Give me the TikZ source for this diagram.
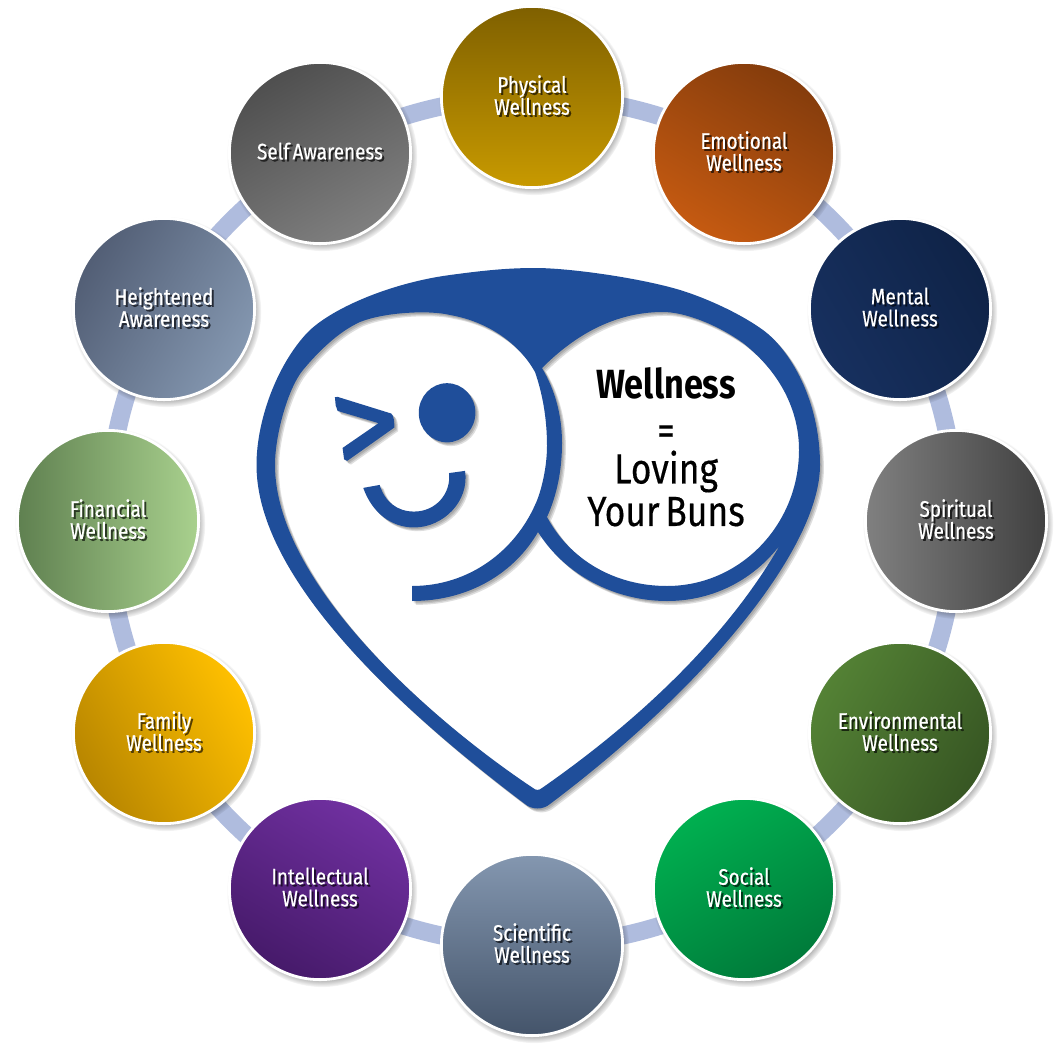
\documentclass[tikz,border=0pt]{standalone}
\usepackage{fontspec}
\setmainfont[FakeStretch=0.84,WordSpace=0.6]{Fira Sans}
\newfontfamily\lblfont[FakeStretch=0.84,WordSpace=0.6,FakeBold=0.35]{Fira Sans}
\usetikzlibrary{shadows,backgrounds,fadings}
\definecolor{linkblue}{HTML}{AFBCDE}
\definecolor{heartblue}{HTML}{1F4E9A}
\definecolor{phyD}{HTML}{7F6000}\definecolor{phyL}{HTML}{C89A00}
\definecolor{emoD}{HTML}{843C0C}\definecolor{emoL}{HTML}{C55A11}
\definecolor{menD}{HTML}{0F2347}\definecolor{menL}{HTML}{17305F}
\definecolor{spiD}{HTML}{404040}\definecolor{spiL}{HTML}{808080}
\definecolor{envD}{HTML}{375623}\definecolor{envL}{HTML}{548235}
\definecolor{socD}{HTML}{007A3A}\definecolor{socL}{HTML}{00B050}
\definecolor{sciD}{HTML}{44546A}\definecolor{sciL}{HTML}{8497B0}
\definecolor{intD}{HTML}{461A6A}\definecolor{intL}{HTML}{7030A0}
\definecolor{famD}{HTML}{B88600}\definecolor{famL}{HTML}{FFC000}
\definecolor{finD}{HTML}{5F8050}\definecolor{finL}{HTML}{A9D18E}
\definecolor{heiD}{HTML}{525E75}\definecolor{heiL}{HTML}{8497B0}
\definecolor{selD}{HTML}{4F4F4F}\definecolor{selL}{HTML}{7F7F7F}
\newcommand{\shtxt}[2]{\leavevmode\rlap{\kern0.05cm\raisebox{-0.05cm}{\color{#1!45!black}#2}}#2}
\newcommand{\heartpath}{
  (525,804) .. controls (374,690) and (256.5,568) .. (256.5,465)
  .. controls (256.5,420) and (277,365) .. (307,333)
  .. controls (330,309) and (390,283) .. (450,275)
  .. controls (480,271) and (505,268) .. (535,268)
  .. controls (570,268) and (640,278) .. (680,290)
  .. controls (703,297) and (738,312) .. (763,330)
  .. controls (790,350) and (820,400) .. (820,465)
  .. controls (820,546) and (710.7,683) .. (550,804)
  .. controls (543,810) and (532,810) .. (525,804) -- cycle
  (275,465) .. controls (275,435) and (288,388) .. (303,370)
  .. controls (318,352) and (338,332) .. (360,322)
  .. controls (385,312) and (430,310) .. (450,315)
  .. controls (490,322) and (520,345) .. (535,372)
  .. controls (543,395) and (547,420) .. (547,446)
  .. controls (547,470) and (540,495) .. (535,505)
  .. controls (515,550) and (470,586) .. (412,586)
  -- (412,601)
  .. controls (470,601) and (515,572) .. (538,532)
  .. controls (565,575) and (615,601) .. (667,601)
  .. controls (715,601) and (755,578) .. (780,545)
  .. controls (737,620) and (661,705) .. (542,788)
  .. controls (539,790.5) and (536,790.5) .. (533,788)
  .. controls (431,720) and (275,583) .. (275,465) -- cycle
  (542,368) .. controls (570,340) and (610,312) .. (663,312)
  .. controls (685,312) and (718,325) .. (743,343)
  .. controls (775,368) and (799,405) .. (799,450)
  .. controls (799,525) and (740,586) .. (667,586)
  .. controls (615,586) and (570,560) .. (547,517)
  .. controls (557,495) and (562,470) .. (562,443)
  .. controls (562,415) and (555,390) .. (542,368) -- cycle
}
\newcommand{\facepath}{
  (541,360) .. controls (582,360) and (615,396) .. (615,440)
  .. controls (615,484) and (582,520) .. (541,520)
  .. controls (500,520) and (467,484) .. (467,440)
  .. controls (467,396) and (500,360) .. (541,360) -- cycle
  (255,397) -- (395,442) .. controls (402,446) and (404,470) .. (403,480)
  -- (280,570) -- (272,566) -- (268,535) -- (362,468) -- (255,435)
  -- (250,420) -- (248,398) -- cycle
  (322,643) .. controls (345,710) and (395,750) .. (455,750)
  .. controls (530,750) and (600,680) .. (588,597)
  -- (546,603) .. controls (552,660) and (510,707) .. (455,707)
  .. controls (410,707) and (378,680) .. (365,635) -- cycle
}
\lineskiplimit=-20pt
\normallineskiplimit=-20pt
\tikzset{
  wheel/.style={circle,draw=white,line width=0.07cm,minimum size=4.53cm,inner sep=0pt,
    align=center,text=white,font=\lblfont\fontsize{16}{15.65}\selectfont,
    circular drop shadow={shadow xshift=0.05cm,shadow yshift=-0.07cm,shadow scale=1.05,opacity=.55,fill=black}},
  link/.style={linkblue,line width=0.45cm,bend left=15,looseness=0.87},
  centertext/.style={align=center,text=black,inner sep=0pt,
    font=\lblfont\fontsize{30}{30.2}\selectfont}
}
% name, position, prefix of the colours, shading angle, text
\newcommand{\wnode}[5]{%
  \node[wheel,top color=#3D,bottom color=#3L,shading angle=#4] (#1) at #2 {#5\rule[-0.1cm]{0pt}{0pt}};
}
\begin{document}
\begin{tikzpicture}[x=0.025cm,y=-0.025cm]
\useasboundingbox (0,0) rectangle (1064,1051);
\wnode{physical}{(532,97)}{phy}{0}{\shtxt{phyD}{Physical}\\\shtxt{phyD}{Wellness}}
\wnode{emotional}{(744,153)}{emo}{-30}{\shtxt{emoD}{Emotional}\\\shtxt{emoD}{Wellness}}
\wnode{mental}{(900,309)}{men}{-60}{\shtxt{menD}{Mental}\\\shtxt{menD}{Wellness}}
\wnode{spiritual}{(956,521)}{spi}{-90}{\shtxt{spiD}{Spiritual}\\\shtxt{spiD}{Wellness}}
\wnode{environmental}{(900,733)}{env}{-120}{\shtxt{envD}{Environmental}\\\shtxt{envD}{Wellness}}
\wnode{social}{(744,889)}{soc}{-150}{\shtxt{socD}{Social}\\\shtxt{socD}{Wellness}}
\wnode{scientific}{(532,945)}{sci}{180}{\shtxt{sciD}{Scientific}\\\shtxt{sciD}{Wellness}}
\wnode{intellectual}{(320,889)}{int}{150}{\shtxt{intD}{Intellectual}\\\shtxt{intD}{Wellness}}
\wnode{family}{(164,733)}{fam}{120}{\shtxt{famD}{Family}\\\shtxt{famD}{Wellness}}
\wnode{financial}{(108,521)}{fin}{90}{\shtxt{finD}{Financial}\\\shtxt{finD}{Wellness}}
\wnode{heightened}{(164,309)}{hei}{60}{\shtxt{heiD}{Heightened}\\\shtxt{heiD}{Awareness}}
\wnode{self}{(320,153)}{sel}{30}{\shtxt{selD}{Self Awareness}}
\begin{scope}[on background layer]
  \fill[white] (0,0) rectangle (1064,1051);
  \foreach \a/\b in {physical/emotional,emotional/mental,mental/spiritual,spiritual/environmental,
    environmental/social,social/scientific,scientific/intellectual,intellectual/family,
    family/financial,financial/heightened,heightened/self,self/physical}
    \draw[link] (\a.center) to (\b.center);
\end{scope}
\foreach \d in {1.5,2.7,3.9}
  \fill[black,opacity=.13,even odd rule,shift={(\d,\d)}] \heartpath;
\fill[heartblue,even odd rule] \heartpath;
\begin{scope}[shift={(240,250)},x=0.009567cm,y=-0.009249cm]
  \foreach \d in {4,7,10}
    \fill[black,opacity=.13,shift={(\d,\d)}] \facepath;
  \fill[heartblue] \facepath;
\end{scope}
\node[centertext] (title) at (666,447) {{\normalfont\fontsize{29}{30.2}\selectfont\bfseries Wellness}\\\raisebox{-0.1cm}{=}\\Loving\\Your Buns};
\end{tikzpicture}
\end{document}
